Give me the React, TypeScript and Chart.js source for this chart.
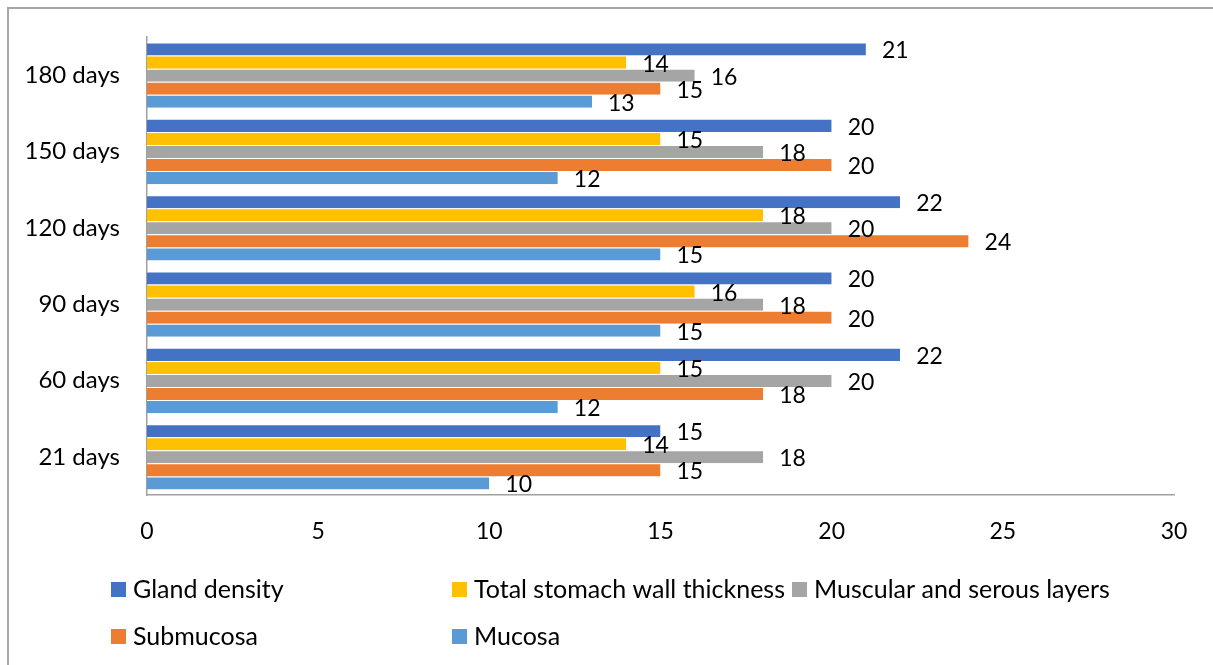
import React, { useEffect, useRef } from "react";
import { Chart, registerables } from "chart.js";

Chart.register(...registerables);

const categories = ["180 days", "150 days", "120 days", "90 days", "60 days", "21 days"];
const glandDensity = [21, 20, 22, 20, 22, 15];
const totalThickness = [14, 15, 18, 16, 15, 14];
const muscularSerous = [16, 18, 20, 18, 20, 18];
const submucosa = [15, 20, 24, 20, 18, 15];
const mucosa = [13, 12, 15, 15, 12, 10];
const seriesNames = [
  "Gland density",
  "Total stomach wall thickness",
  "Muscular and serous layers",
  "Submucosa",
  "Mucosa",
];
const seriesColors = ["#4472C4", "#FFC000", "#A5A5A5", "#ED7D31", "#5B9BD5"];
const xTicks = [0, 5, 10, 15, 20, 25, 30];

const FONT = "Lato, 'Open Sans', sans-serif";

const labelPlugin = {
  id: "valueLabels",
  afterDatasetsDraw(chart: any) {
    const ctx = chart.ctx;
    ctx.save();
    ctx.font = `23px ${FONT}`;
    ctx.fillStyle = "#000";
    ctx.textAlign = "left";
    ctx.textBaseline = "middle";
    chart.data.datasets.forEach((ds: any, di: number) => {
      const meta = chart.getDatasetMeta(di);
      meta.data.forEach((bar: any, i: number) => {
        ctx.fillText(String(ds.data[i]), bar.x + 16, bar.y + 2);
      });
    });
    ctx.restore();
  },
};

const legendPlugin = {
  id: "gridLegend",
  afterDraw(chart: any) {
    const ctx = chart.ctx;
    const cols = [111, 452, 792];
    const rows = [589, 636];
    ctx.save();
    ctx.font = `25px ${FONT}`;
    ctx.textAlign = "left";
    ctx.textBaseline = "middle";
    chart.data.datasets.forEach((ds: any, i: number) => {
      const x = cols[i % 3];
      const y = rows[Math.floor(i / 3)];
      ctx.fillStyle = ds.backgroundColor;
      ctx.fillRect(x, y - 7, 15, 15);
      ctx.fillStyle = "#000";
      ctx.fillText(ds.label, x + 22, y + 1);
    });
    ctx.restore();
  },
};

export default function App() {
  const ref = useRef<HTMLCanvasElement | null>(null);
  useEffect(() => {
    if (!ref.current) return;
    const values = [glandDensity, totalThickness, muscularSerous, submucosa, mucosa];
    const chart = new Chart(ref.current, {
      type: "bar",
      data: {
        labels: categories,
        datasets: values.map((v, i) => ({
          label: seriesNames[i],
          data: v,
          backgroundColor: seriesColors[i],
          borderColor: "#ffffff",
          borderWidth: { top: 1, bottom: 0, left: 0, right: 0 },
          borderSkipped: false,
          categoryPercentage: 0.855,
          barPercentage: 1,
        })),
      },
      options: {
        indexAxis: "y",
        animation: false,
        responsive: false,
        devicePixelRatio: 1,
        layout: { padding: { left: 0, top: 37, right: 39, bottom: 110 } },
        plugins: {
          legend: { display: false },
          tooltip: { enabled: false },
          title: { display: false },
        },
        scales: {
          x: {
            min: 0,
            max: 30,
            afterBuildTicks(scale: any) {
              scale.ticks = xTicks.map((v) => ({ value: v }));
            },
            afterFit(scale: any) {
              scale.height = 60;
              scale.paddingLeft = 0;
              scale.paddingRight = 0;
            },
            grid: { display: false, drawTicks: false },
            border: { display: true, color: "#a0a0a0", width: 1.5 },
            ticks: {
              padding: 23,
              color: "#000",
              font: { family: FONT, size: 23 },
            },
          },
          y: {
            afterFit(scale: any) {
              scale.width = 147;
              scale.paddingTop = 0;
              scale.paddingBottom = 0;
            },
            grid: { display: false, drawTicks: false },
            border: { display: true, color: "#a0a0a0", width: 1.5 },
            ticks: {
              padding: 27,
              color: "#000",
              font: { family: FONT, size: 24 },
            },
          },
        },
      },
      plugins: [labelPlugin, legendPlugin],
    } as any);
    return () => chart.destroy();
  }, []);
  return (
    <div style={{ position: "absolute", left: 0, top: 0, width: 1213, height: 665, background: "#fff" }}>
      <div
        style={{
          position: "absolute",
          left: 7,
          top: 7,
          width: 1220,
          height: 680,
          borderTop: "2px solid #a6a6a6",
          borderLeft: "2px solid #a6a6a6",
        }}
      />
      <canvas ref={ref} width={1213} height={665} style={{ position: "absolute", left: 0, top: 0 }} />
    </div>
  );
}
